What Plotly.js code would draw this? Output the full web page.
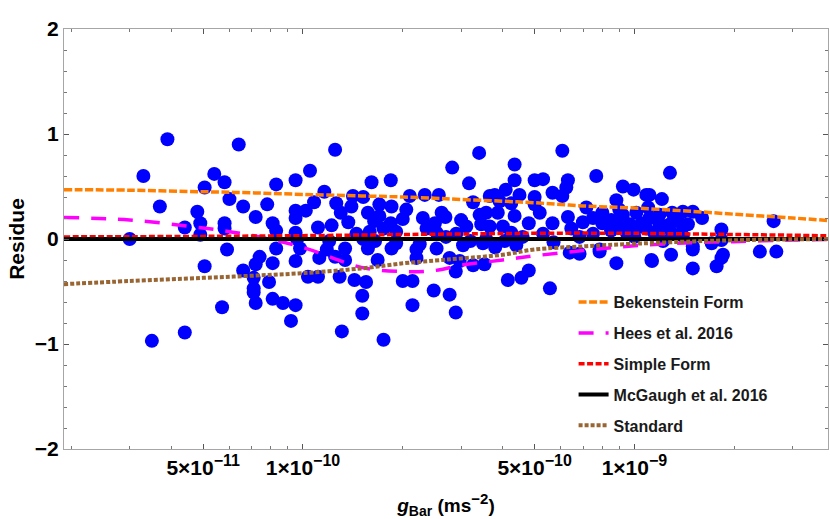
<!DOCTYPE html>
<html><head><meta charset="utf-8">
<script src="https://cdn.plot.ly/plotly-3.0.1.min.js"></script>
<style>html,body{margin:0;padding:0;background:#fff;} #chart{width:830px;height:519px;}</style>
</head><body><div id="chart"></div>
<script>
const gBar = [
3.0e-11,3.3e-11,3.9e-11,3.7e-11,3.5e-11,4.4e-11,6.4e-11,5.4e-11,5.8e-11,5.05e-11,
8.3e-11,9.5e-11,4.8e-11,6.0e-11,6.6e-11,7.8e-11,7.2e-11,9.5e-11,9.5e-11,4.4e-11,
4.9e-11,5.8e-11,5.8e-11,4.9e-11,8.1e-11,8.3e-11,9.5e-11,5.9e-11,8.3e-11,7.4e-11,
8.1e-11,9.5e-11,6.6e-11,7.2e-11,5.05e-11,7.1e-11,7.9e-11,7.1e-11,7.1e-11,7.2e-11,
8.1e-11,8.7e-11,9.5e-11,5.7e-11,9.2e-11,9.8e-11,1.25e-10,3.4e-10,1.05e-10,2.82e-10,
1.61e-10,1.84e-10,3.17e-10,1.16e-10,1.415e-10,1.52e-10,2.10e-10,2.33e-10,2.57e-10,3.66e-10,
1.08e-10,1.26e-10,1.40e-10,1.70e-10,1.85e-10,3.26e-10,1.02e-10,1.57e-10,2.0e-10,2.62e-10,
2.69e-10,3.41e-10,1.37e-10,1.22e-10,1.11e-10,1.64e-10,1.84e-10,2.36e-10,3.11e-10,3.45e-10,
1.59e-10,1.91e-10,2.53e-10,9.6e-11,1.20e-10,1.52e-10,1.91e-10,2.25e-10,3.04e-10,3.49e-10,
1.18e-10,1.34e-10,1.57e-10,1.85e-10,2.20e-10,2.53e-10,1.12e-10,1.25e-10,1.34e-10,1.68e-10,
2.20e-10,2.77e-10,2.97e-10,3.53e-10,1.035e-10,1.11e-10,1.29e-10,1.43e-10,1.55e-10,2.0e-10,
2.14e-10,2.89e-10,1.51e-10,2.48e-10,2.77e-10,2.14e-10,1.51e-10,2.89e-10,1.31e-10,1.75e-10,
3.26e-10,4.15e-10,4.56e-10,4.80e-10,5.56e-10,6.38e-10,6.83e-10,7.85e-10,8.82e-10,1.125e-9,
1.29e-9,1.50e-9,1.50e-9,1.77e-9,1.85e-9,2.39e-9,2.68e-9,6.06e-10,4.35e-10,4.35e-10,
5.00e-10,5.30e-10,6.30e-10,7.67e-10,4.09e-10,3.79e-10,4.50e-10,5.00e-10,5.66e-10,6.06e-10,
6.23e-10,9.23e-10,9.94e-10,1.086e-9,8.82e-10,3.92e-10,4.25e-10,5.00e-10,7.16e-10,3.57e-10,
3.87e-10,4.35e-10,5.18e-10,6.30e-10,5.66e-10,4.80e-10,6.99e-10,8.51e-10,9.23e-10,1.013e-9,
1.11e-9,1.19e-9,3.66e-10,4.01e-10,4.25e-10,6.45e-10,8.61e-10,9.67e-10,1.086e-9,1.19e-9,
3.57e-10,4.06e-10,6.83e-10,7.85e-10,1.28e-9,1.21e-9,1.11e-9,1.40e-9,1.50e-9,1.60e-9,
2.63e-9,1.28e-9,1.40e-9,1.45e-9,1.83e-9,1.22e-9,1.50e-9,1.71e-9,1.83e-9,1.83e-9,
1.13e-9,7.5e-10,8.0e-10,8.5e-10,9.0e-10,9.5e-10,1.0e-9,1.05e-9,1.15e-9,1.2e-9,
1.3e-9,1.35e-9,9.0e-10,8.0e-10,1.1e-9,1.3e-9,7.5e-10,1.0e-9,1.4e-9,2.3e-10,
2.5e-10,2.7e-10,2.9e-10,3.0e-10,3.2e-10,1.45e-10,1.65e-10,1.75e-10,1.3e-10,1.7e-10,
2.05e-10,4.6e-10,5.3e-10,5.7e-10,3.8e-10,4.4e-10
];
const residue = [
0.00,0.60,0.95,0.31,-0.97,-0.89,0.90,0.62,0.54,0.49,
0.52,0.56,0.26,0.38,0.31,0.33,0.21,0.27,0.20,0.11,
0.15,0.15,0.10,0.04,0.15,0.08,0.06,-0.10,-0.09,-0.17,
-0.23,-0.21,-0.30,-0.24,-0.26,-0.37,-0.41,-0.47,-0.51,-0.61,
-0.57,-0.61,-0.63,-0.65,-0.78,-0.09,0.85,0.82,0.65,0.68,
0.54,0.56,0.53,0.45,0.41,0.40,0.41,0.42,0.42,0.41,
0.35,0.34,0.31,0.33,0.31,0.35,0.27,0.25,0.19,0.25,
0.21,0.23,0.16,0.13,0.11,0.17,0.15,0.10,0.12,0.14,
0.07,0.07,0.06,0.00,-0.02,0.00,-0.04,-0.05,-0.06,-0.04,
-0.10,-0.09,-0.09,-0.09,-0.10,-0.09,-0.18,-0.17,-0.20,-0.20,
-0.18,-0.18,-0.21,-0.24,-0.36,-0.36,-0.36,-0.39,-0.41,-0.40,
-0.40,-0.31,-0.54,-0.49,-0.53,-0.63,-0.71,-0.70,-0.88,-0.96,
-0.25,-0.39,-0.37,-0.30,-0.47,-0.13,-0.14,-0.12,-0.23,-0.20,
-0.15,-0.10,-0.28,-0.26,-0.15,-0.12,-0.12,0.84,0.71,0.56,
0.56,0.57,0.56,0.60,0.47,0.42,0.42,0.40,0.44,0.41,
0.49,0.50,0.47,0.42,0.37,0.36,0.34,0.33,0.30,0.25,
0.25,0.22,0.25,0.21,0.15,0.15,0.16,0.18,0.23,0.25,
0.20,0.23,0.12,0.12,0.06,0.10,0.10,0.14,0.10,0.14,
0.00,-0.02,0.02,-0.10,0.63,0.38,0.42,0.26,0.26,0.20,
0.17,0.14,0.12,0.14,0.09,-0.02,-0.07,-0.04,-0.01,-0.18,
-0.21,0.20,0.15,0.08,0.12,0.05,0.08,0.15,0.05,0.10,
0.05,0.18,0.28,0.25,0.30,0.25,0.05,0.02,0.03,0.20,
0.15,0.02,0.05,0.18,-0.02,0.05,-0.02,0.10,0.25,0.22,
0.28,0.02,0.05,-0.03,-0.08,-0.06
];

const curveG     = [1.9e-11, 3e-11, 5e-11, 7e-11, 1e-10, 1.5e-10, 2e-10, 2.5e-10, 3e-10, 4e-10, 5e-10, 7e-10, 1e-9, 1.5e-9, 2e-9, 3e-9, 3.9e-9];
const bekenstein = [0.47, 0.465, 0.45, 0.44, 0.425, 0.41, 0.40, 0.388, 0.376, 0.36, 0.345, 0.315, 0.295, 0.263, 0.236, 0.20, 0.175];
const hees       = [0.205, 0.18, 0.105, 0.035, -0.08, -0.27, -0.31, -0.30, -0.25, -0.20, -0.16, -0.11, -0.065, -0.035, -0.025, -0.01, -0.005];
const simpleForm = [0.02, 0.022, 0.025, 0.028, 0.032, 0.038, 0.043, 0.046, 0.048, 0.052, 0.055, 0.056, 0.054, 0.048, 0.043, 0.036, 0.03];
const mcgaugh    = [0, 0, 0, 0, 0, 0, 0, 0, 0, 0, 0, 0, 0, 0, 0, 0, 0];
const standard   = [-0.43, -0.40, -0.37, -0.35, -0.325, -0.28, -0.232, -0.205, -0.185, -0.15, -0.10, -0.07, -0.045, -0.023, -0.012, -0.003, 0.0];

const seriesNames = ["Bekenstein Form", "Hees et al. 2016", "Simple Form", "McGaugh et al. 2016", "Standard"];

const SUP = "<span style='font-size:16px'>";
const xTickVals = [5e-11, 1e-10, 5e-10, 1e-9];
const xTickText = ["5\u00d710<sup>" + SUP + "\u221211</span></sup>", "1\u00d710<sup>" + SUP + "\u221210</span></sup>",
                   "5\u00d710<sup>" + SUP + "\u221210</span></sup>", "1\u00d710<sup>" + SUP + "\u22129</span></sup>"];
const xMinorVals = [2e-11,3e-11,4e-11,6e-11,7e-11,8e-11,9e-11,2e-10,3e-10,4e-10,6e-10,7e-10,8e-10,9e-10,2e-9,3e-9];
const yTickVals = [-2, -1, 0, 1, 2];
const yTickText = ["\u22122", "\u22121", "0", "1", "2"];
const yMinorVals = [-1.8,-1.6,-1.4,-1.2,-0.8,-0.6,-0.4,-0.2,0.2,0.4,0.6,0.8,1.2,1.4,1.6,1.8];
const xTitle = "<i>g</i><sub><span style='font-size:14px'>Bar</span></sub> (ms<sup><span style='font-size:15px'>\u22122</span></sup>)";
const yTitle = "Residue";

const FONT = "Liberation Sans, Arial, Helvetica, sans-serif";

const traces = [
  {x: gBar, y: residue, type: 'scatter', mode: 'markers', showlegend: false,
   marker: {color: '#0000FF', size: 14}},
  {x: curveG, y: bekenstein, name: seriesNames[0], legendgroup: 'a', type: 'scatter', mode: 'lines',
   line: {color: '#FF8000', width: 3.5, dash: '8px,2.5px', shape: 'spline'}},
  {x: curveG, y: hees, name: seriesNames[1], legendgroup: 'b', type: 'scatter', mode: 'lines',
   line: {color: '#FF00FF', width: 3.5, dash: '15px,12px', shape: 'spline'}},
  {x: curveG, y: simpleForm, name: seriesNames[2], legendgroup: 'c', type: 'scatter', mode: 'lines',
   line: {color: '#FF0000', width: 3.5, dash: '6px,2.5px', shape: 'spline'}},
  {x: curveG, y: mcgaugh, name: seriesNames[3], legendgroup: 'd', type: 'scatter', mode: 'lines',
   line: {color: '#000000', width: 4}},
  {x: curveG, y: standard, name: seriesNames[4], legendgroup: 'e', type: 'scatter', mode: 'lines',
   line: {color: '#996633', width: 4, dash: '4px,2px', shape: 'spline'}}
];

const layout = {
  width: 830, height: 519,
  margin: {l: 64, r: 2, t: 29, b: 70},
  paper_bgcolor: '#fff', plot_bgcolor: '#fff',
  font: {family: FONT, size: 16, color: '#000', weight: 'bold'},
  showlegend: true,
  legend: {x: 0.667, xanchor: 'left', y: 0.39, yanchor: 'top', bgcolor: 'rgba(0,0,0,0)',
           font: {family: FONT, size: 16, color: '#1a1a1a', weight: 'bold'}, tracegroupgap: 7},
  xaxis: {
    type: 'log', range: [-10.721, -8.416], automargin: false,
    showline: true, linecolor: '#a6a6a6', linewidth: 1, mirror: 'ticks',
    showgrid: false, zeroline: false,
    tickmode: 'array', tickvals: xTickVals, ticktext: xTickText,
    ticks: 'inside', ticklen: 5, tickcolor: '#555', tickwidth: 1,
    tickfont: {family: FONT, size: 21, color: '#000', weight: 'bold'},
    minor: {tickmode: 'array', tickvals: xMinorVals, ticks: 'inside', ticklen: 3, tickcolor: '#777', showgrid: false},
    title: {text: xTitle, font: {family: FONT, size: 19, color: '#000', weight: 'bold'}, standoff: 22}
  },
  yaxis: {
    range: [-2, 2], automargin: false,
    showline: true, linecolor: '#a6a6a6', linewidth: 1, mirror: 'ticks',
    showgrid: false, zeroline: false,
    tickmode: 'array', tickvals: yTickVals, ticktext: yTickText,
    ticks: 'inside', ticklen: 5, tickcolor: '#555', tickwidth: 1,
    tickfont: {family: FONT, size: 21, color: '#000', weight: 'bold'},
    minor: {tickmode: 'array', tickvals: yMinorVals, ticks: 'inside', ticklen: 3, tickcolor: '#777', showgrid: false},
    title: {text: yTitle, font: {family: FONT, size: 21, color: '#000', weight: 'bold'}, standoff: 4}
  }
};

Plotly.newPlot('chart', traces, layout, {staticPlot: true, displayModeBar: false});
</script>
</body></html>
